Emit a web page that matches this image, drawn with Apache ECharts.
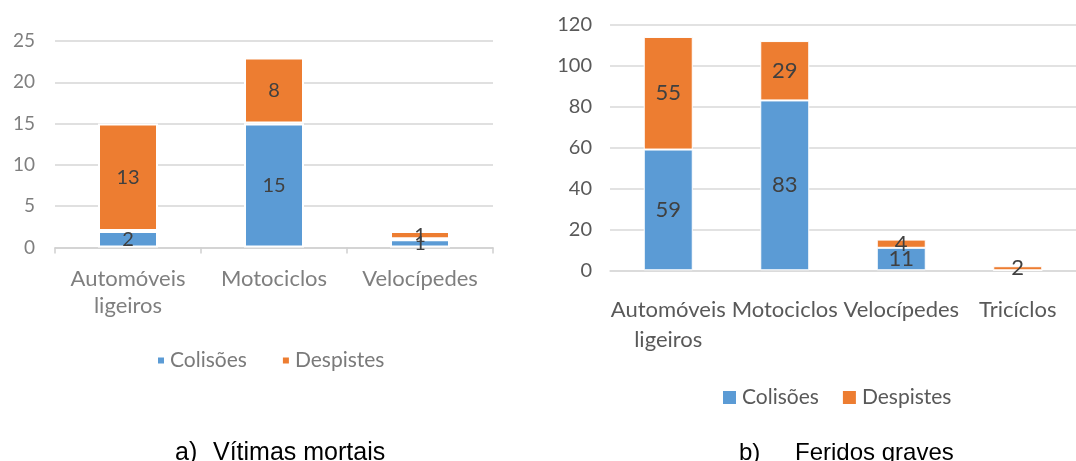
<!DOCTYPE html>
<html>
<head>
<meta charset="utf-8">
<script src="https://cdn.jsdelivr.net/npm/echarts@6/dist/echarts.min.js"></script>
<style>
  html, body { margin: 0; padding: 0; background: #fff; width: 1076px; height: 461px; overflow: hidden; }
  #fatal  { position: absolute; left: 0; top: 0; width: 540px;  height: 461px; filter: blur(0.6px); }
  #graves { position: absolute; left: 0; top: 0; width: 1076px; height: 461px; }
</style>
</head>
<body>
<div id="fatal"></div>
<div id="graves"></div>
<script>
// Series names shared by both panels
const seriesNames = ['Colisões', 'Despistes'];

// a) Vítimas mortais
const fatalCategories = ['Automóveis\nligeiros', 'Motociclos', 'Velocípedes'];
const fatalColisoes   = [2, 15, 1];
const fatalDespistes  = [13, 8, 1];
const fatalTicks      = [0, 5, 10, 15, 20, 25];

// b) Feridos graves
const gravesCategories = ['Automóveis\nligeiros', 'Motociclos', 'Velocípedes', 'Tricíclos'];
const gravesColisoes   = [59, 83, 11, 0];
const gravesDespistes  = [55, 29, 4, 2];
const gravesTicks      = [0, 20, 40, 60, 80, 100, 120];

// Panel captions
const captionA = ['a)', 'Vítimas mortais'];
const captionB = ['b)', 'Feridos graves'];

const BLUE = '#5B9BD5';
const ORANGE = '#ED7D31';
const FONT = 'Lato';

const hideZero = p => (p.value ? String(p.value) : '');

function tickRange(ticks) {
  return { min: ticks[0], max: ticks[ticks.length - 1], interval: ticks[1] - ticks[0] };
}

// ---------- left panel ----------
const fatalChart = echarts.init(document.getElementById('fatal'), null, { renderer: 'canvas' });
const fr = tickRange(fatalTicks);
const fatalBar = (name, data, color) => ({
  name, type: 'bar', stack: 'total', data, barWidth: 60,
  itemStyle: { color, borderColor: '#ffffff', borderWidth: 2 },
  label: { show: true, position: 'inside', formatter: hideZero,
           fontFamily: FONT, fontSize: 20, color: '#404040' }
});
fatalChart.setOption({
  animation: false,
  grid: { left: 55, top: 41, width: 438, height: 206.5 },
  legend: {
    left: 151, top: 345, icon: 'rect', itemWidth: 8, itemHeight: 8, itemGap: 34,
    data: seriesNames,
    textStyle: { fontFamily: FONT, fontSize: 21, color: '#7a7a7a' }
  },
  xAxis: {
    type: 'category', data: fatalCategories,
    axisLine: { lineStyle: { color: '#cfcfcf', width: 1.5 } },
    axisTick: { show: true, length: 6, lineStyle: { color: '#cfcfcf', width: 1.5 } },
    axisLabel: { interval: 0, fontFamily: FONT, fontSize: 22, color: '#7f7f7f', lineHeight: 27, margin: 18 }
  },
  yAxis: {
    type: 'value', min: fr.min, max: fr.max, interval: fr.interval,
    axisLine: { show: false }, axisTick: { show: false },
    axisLabel: { fontFamily: FONT, fontSize: 19, color: '#7f7f7f', margin: 20 },
    splitLine: { lineStyle: { color: '#d6d6d6', width: 1.5 } }
  },
  series: [
    fatalBar(seriesNames[0], fatalColisoes, BLUE),
    fatalBar(seriesNames[1], fatalDespistes, ORANGE)
  ]
});

// ---------- right panel + captions ----------
const gravesChart = echarts.init(document.getElementById('graves'), null, { renderer: 'canvas' });
const gr = tickRange(gravesTicks);
const gravesBar = (name, data, color) => ({
  name, type: 'bar', stack: 'total', data, barWidth: 49,
  itemStyle: { color, borderColor: '#ffffff', borderWidth: 1 },
  label: { show: true, position: 'inside', formatter: hideZero,
           fontFamily: FONT, fontSize: 22, color: '#404040' }
});
const caption = (text, left, size) => ({
  type: 'text', left, top: 441, silent: true,
  style: { text, font: size + 'px "Liberation Sans", Arial, sans-serif', fill: '#000000' }
});
gravesChart.setOption({
  animation: false,
  grid: { left: 610, top: 24.7, width: 476, height: 245.6 },
  legend: {
    left: 716, top: 382, icon: 'rect', itemWidth: 15, itemHeight: 15, itemGap: 22,
    data: seriesNames,
    textStyle: { fontFamily: FONT, fontSize: 21, color: '#595959' }
  },
  xAxis: {
    type: 'category', data: gravesCategories,
    axisLine: { lineStyle: { color: '#d9d9d9', width: 1.5 } },
    axisTick: { show: false },
    axisLabel: { interval: 0, fontFamily: FONT, fontSize: 22, color: '#595959', lineHeight: 30, margin: 25 }
  },
  yAxis: {
    type: 'value', min: gr.min, max: gr.max, interval: gr.interval,
    axisLine: { show: false }, axisTick: { show: false },
    axisLabel: { fontFamily: FONT, fontSize: 20, color: '#595959', margin: 18 },
    splitLine: { lineStyle: { color: '#d9d9d9', width: 1.5 } }
  },
  series: [
    gravesBar(seriesNames[0], gravesColisoes, BLUE),
    gravesBar(seriesNames[1], gravesDespistes, ORANGE)
  ],
  graphic: [
    caption(captionA[0], 175, 25),
    caption(captionA[1], 213, 25),
    caption(captionB[0], 739, 24),
    caption(captionB[1], 795, 24)
  ]
});
</script>
</body>
</html>
